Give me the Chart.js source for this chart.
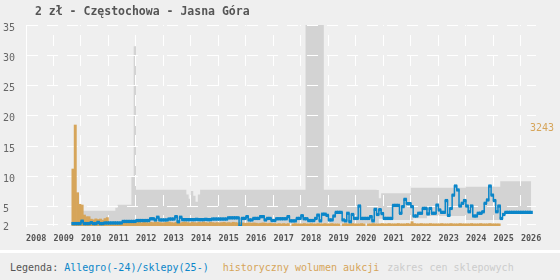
<!DOCTYPE html>
<html>
<head>
<meta charset="utf-8">
<script src="https://cdn.jsdelivr.net/npm/chart.js@4/dist/chart.umd.min.js"></script>
<style>
  html, body { margin: 0; padding: 0; background: #efefef; }
  #wrap { position: relative; width: 560px; height: 280px; overflow: hidden; }
  #title { position: absolute; left: 35px; top: 4px; font: bold 11.5px "DejaVu Sans Mono", monospace; color: #555; }
  #chart { position: absolute; left: 0; top: 0; }
  #sep { position: absolute; left: 0; top: 250px; width: 560px; height: 3px; background: #fff; }
  #legend { position: absolute; left: 10px; top: 262px; font: 10px "DejaVu Sans Mono", monospace; white-space: pre; color: #555; }
  #legend span { display: inline-block; }
</style>
</head>
<body>
<div id="wrap">
  <canvas id="chart" width="560" height="250"></canvas>
  <div id="title">2 zł - Częstochowa - Jasna Góra</div>
  <div id="sep"></div>
  <div id="legend">Legenda: <span style="color:#0b86c9">Allegro(-24)/sklepy(25-)</span><span style="color:#d6a55a;margin-left:14px">historyczny wolumen aukcji</span><span style="color:#cccccc;margin-left:8px">zakres cen sklepowych</span></div>
</div>
<script>
const yearTicks = [2008, 2009, 2010, 2011, 2012, 2013, 2014, 2015, 2016, 2017,
  2018, 2019, 2020, 2021, 2022, 2023, 2024, 2025, 2026];
const priceTicks = [2, 5, 10, 15, 20, 25, 30, 35];
const volumeTicks = [3243];

// monthly series, first value = month given in *Start
const allegroStart = [2009, 9];
const allegroPrices = [
  2.2, 2.2, 2.2, 2.2,
  2.6, 2.2, 2.2, 2.2, 2.35, 2.2, 2.2, 2.4, 2.2, 2.2, 2.3, 2.3,
  2.3, 2.3, 2.3, 2.3, 2.3, 2.3, 2.55, 2.55, 2.55, 2.55, 2.55, 2.55,
  2.7, 2.7, 2.7, 2.7, 2.7, 2.7, 3.0, 3.0, 2.8, 3.25, 2.8, 2.8,
  2.8, 2.8, 2.95, 2.95, 2.95, 3.35, 2.5, 3.25, 2.85, 2.85, 2.85, 2.85,
  2.85, 2.85, 2.9, 2.85, 2.85, 2.85, 2.9, 2.85, 2.85, 2.95, 2.95, 2.95,
  2.95, 2.95, 2.95, 2.95, 3.15, 3.15, 3.15, 3.15, 3.15, 1.75, 3.05, 3.05,
  3.35, 2.8, 2.8, 3.05, 3.05, 3.05, 3.35, 3.35, 2.8, 3.05, 3.05, 2.7,
  2.7, 3.0, 3.0, 3.0, 3.0, 3.0, 3.35, 2.65, 2.65, 2.65, 3.05, 3.05,
  3.5, 3.0, 3.0, 2.7, 2.7, 2.7, 3.05, 3.6, 2.65, 3.75, 3.75, 3.55,
  2.8, 2.8, 3.45, 4.05, 4.05, 4.05, 2.8, 2.65, 3.9, 2.5, 3.7, 3.05,
  3.05, 5.1, 3.05, 3.05, 3.05, 3.05, 3.35, 2.65, 4.55, 3.7, 4.5, 3.85,
  3.05, 3.05, 3.05, 3.05, 5.2, 5.2, 5.2, 3.9, 5.0, 6.2, 5.5, 5.5,
  5.0, 3.45, 3.45, 3.9, 3.9, 4.7, 4.7, 3.8, 4.7, 3.9, 3.9, 5.25,
  4.45, 4.05, 4.05, 6.0, 3.55, 4.7, 6.9, 8.4, 7.75, 5.1, 5.55, 6.0,
  5.1, 4.15, 5.1, 3.45, 3.45, 3.9, 3.9, 4.15, 5.55, 6.1, 8.4, 6.9,
  6.0, 4.15, 5.1, 3.05, 3.7, 4.05, 4.05, 4.05, 4.05, 4.05, 4.05, 4.05,
  4.05, 4.05, 4.05, 4.05, 4.05
];

const volumeStart = [2009, 9];
const volume = [
  1830, 3243, 1070, 697,
  674, 353, 300, 300, 220, 200, 230, 210, 225, 190, 240, 270,
  120, 110, 130, 120, 100, 110, 120, 100, 110, 100, 120, 110,
  110, 120, 100, 130, 110, 100, 120, 110, 130, 120, 110, 100,
  110, 120, 130, 110, 100, 120, 110, 100, 120, 130, 110, 100,
  120, 110, 100, 120, 110, 130, 110, 100, 120, 110, 100, 110,
  100, 110, 120, 100, 110, 100, 120, 110, 100, 110, 100, 90,
  90, 100, 90, 100, 90, 80, 90, 100, 90, 80, 90, 80,
  80, 70, 80, 70, 80, 70, 80, 0, 70, 80, 70, 70,
  70, 80, 70, 70, 80, 70, 70, 80, 70, 70, 80, 70,
  70, 80, 70, 70, 70, 0, 70, 80, 70, 70, 80, 70,
  70, 70, 80, 70, 0, 70, 70, 80, 70, 70, 70, 80,
  70, 70, 80, 70, 70, 70, 80, 70, 70, 70, 80, 70,
  140, 80, 70, 70, 80, 70, 70, 70, 80, 70, 70, 70,
  70, 80, 70, 70, 70, 80, 70, 70, 70, 80, 70, 70,
  70, 70, 80, 70, 70, 70, 80, 70, 70, 70, 80, 70,
  70, 70, 70
];

const shopStart = [2010, 1];
const shopMax = [
  4.3, 4.3, 4.3, 4.3, 4.3, 4.3, 4.3, 4.3, 4.3, 4.3, 4.3, 4.3,
  4.3, 4.3, 4.3, 4.8, 5.3, 5.3, 5.3, 5.3, 5.3, 5.3, 10, 31.5,
  7.8, 7.8, 7.8, 7.8, 7.8, 7.8, 7.8, 7.8, 7.8, 7.8, 7.8, 7.8,
  7.8, 7.8, 7.8, 7.8, 7.8, 7.8, 7.8, 7.8, 7.8, 7.8, 7.0, 6.3,
  7.6, 6.8, 5.8, 7.0, 7.8, 7.8, 7.8, 7.8, 7.8, 7.8, 7.8, 7.8,
  7.8, 7.8, 7.8, 7.8, 7.8, 7.8, 7.8, 7.8, 7.8, 7.8, 7.8, 7.8,
  7.8, 7.8, 7.8, 7.8, 7.8, 7.8, 7.8, 7.8, 7.8, 7.8, 7.8, 7.8,
  7.8, 7.8, 7.8, 7.8, 7.8, 7.8, 7.8, 7.8, 7.8, 7.8, 7.8, 7.8,
  7.8, 7.8, 35, 35, 35, 35, 35, 35, 35, 35, 7.8, 7.8,
  7.8, 7.8, 7.8, 7.8, 7.8, 7.8, 7.8, 7.8, 7.8, 7.8, 7.8, 7.8,
  7.8, 7.8, 7.8, 7.8, 7.8, 7.8, 7.8, 7.8, 7.8, 7.75, 6.4, 7.2,
  7.2, 7.2, 7.2, 7.2, 7.2, 7.2, 7.2, 7.2, 7.2, 7.2, 7.2, 7.2,
  8.1, 8.1, 8.1, 8.1, 8.1, 8.1, 8.1, 8.1, 8.1, 8.1, 8.1, 8.1,
  8.1, 8.1, 8.1, 8.1, 8.1, 8.1, 8.1, 8.1, 8.1, 8.1, 8.1, 8.1,
  8.3, 8.3, 8.3, 8.3, 8.3, 8.3, 8.3, 8.3, 8.3, 8.3, 8.3, 8.3,
  8.3, 8.3, 8.3, 9.2, 9.2, 9.2, 9.2, 9.2, 9.2, 9.2, 9.2, 9.2,
  9.2, 9.2, 9.2, 9.2, 9.2
];
const shopMin = [
  2.2, 2.2, 2.2, 2.2, 2.2, 2.2, 2.2, 2.2, 2.2, 2.2, 2.2, 2.2,
  2.2, 2.2, 2.2, 2.2, 2.2, 2.2, 2.2, 2.2, 2.2, 2.2, 2.2, 2.2,
  2.2, 2.2, 2.2, 2.2, 2.2, 2.2, 2.2, 2.2, 2.2, 2.2, 2.2, 2.2,
  2.2, 2.2, 2.2, 2.2, 2.2, 2.2, 2.2, 2.2, 2.2, 2.2, 2.2, 2.2,
  2.2, 2.2, 2.2, 2.2, 2.2, 2.2, 2.2, 2.2, 2.2, 2.2, 2.2, 2.2,
  2.2, 2.2, 2.2, 2.2, 2.2, 2.2, 2.2, 2.2, 2.2, 2.2, 2.2, 2.2,
  2.2, 2.2, 2.2, 2.2, 2.2, 2.2, 2.2, 2.2, 2.2, 2.2, 2.2, 2.2,
  2.2, 2.2, 2.2, 2.2, 2.2, 2.2, 2.2, 2.2, 2.2, 2.2, 2.2, 2.2,
  2.2, 2.2, 2.2, 2.2, 2.2, 2.2, 2.2, 2.2, 2.2, 2.2, 2.2, 2.2,
  2.2, 2.2, 2.2, 2.2, 2.2, 2.2, 2.2, 2.2, 2.2, 2.2, 2.2, 2.2,
  2.2, 2.2, 2.2, 2.2, 2.2, 2.2, 2.2, 2.2, 2.2, 2.2, 3.0, 3.0,
  2.8, 2.8, 2.8, 2.8, 2.8, 2.8, 2.8, 2.8, 2.8, 2.8, 2.8, 2.8,
  2.8, 3.1, 3.1, 3.1, 3.1, 3.1, 3.1, 3.45, 3.45, 3.45, 3.45, 3.45,
  3.45, 3.45, 3.45, 3.45, 3.45, 3.45, 3.45, 3.45, 3.45, 3.45, 3.45, 3.45,
  2.8, 2.8, 2.8, 2.8, 2.8, 2.8, 2.8, 2.8, 2.8, 2.8, 2.8, 2.8,
  2.8, 2.8, 2.8, 3.8, 3.8, 3.8, 3.8, 3.8, 3.8, 3.8, 3.8, 3.8,
  3.8, 3.8, 3.8, 3.8, 3.8
];

const BLUE = "#0b86c9";
const ORANGE = "#d6a55a";
const GREY = "#d3d3d3";

// month index -> decimal year (middle of the month)
function toPoints(start, values) {
  return values.map((v, i) => ({ x: start[0] + (start[1] - 1 + i + 0.5) / 12, y: v }));
}

// white grid goes over the shop price band but under bars and line
const gridOverBand = {
  id: "gridOverBand",
  afterDatasetDraw(chart, args) {
    if (args.index !== 2) return;
    chart.scales.x.drawGrid(chart.chartArea);
    chart.scales.y.drawGrid(chart.chartArea);
  }
};

Chart.defaults.font.family = '"DejaVu Sans Mono", monospace';

new Chart(document.getElementById("chart"), {
  type: "bar",
  data: {
    datasets: [{
      type: "line",
      label: "Allegro(-24)/sklepy(25-)",
      data: toPoints(allegroStart, allegroPrices),
      borderColor: BLUE,
      backgroundColor: BLUE,
      borderWidth: 1.5,
      stepped: "middle",
      pointStyle: "rect",
      pointRadius: 2.3,
      pointBorderWidth: 0,
      fill: false,
      yAxisID: "y"
    }, {
      type: "bar",
      label: "historyczny wolumen aukcji",
      data: toPoints(volumeStart, volume),
      backgroundColor: ORANGE,
      barPercentage: 1,
      categoryPercentage: 1,
      yAxisID: "y2"
    }, {
      type: "line",
      label: "zakres cen sklepowych",
      data: toPoints(shopStart, shopMax),
      borderWidth: 0,
      borderColor: "transparent",
      backgroundColor: GREY,
      pointRadius: 0,
      stepped: "middle",
      fill: "+1",
      yAxisID: "y"
    }, {
      type: "line",
      label: "min",
      data: toPoints(shopStart, shopMin),
      borderWidth: 0,
      borderColor: "transparent",
      pointRadius: 0,
      stepped: "middle",
      fill: false,
      yAxisID: "y"
    }]
  },
  options: {
    responsive: false,
    animation: false,
    layout: { padding: { left: 3, top: 25, right: 0, bottom: 0 } },
    plugins: {
      legend: { display: false },
      tooltip: { enabled: false }
    },
    scales: {
      x: {
        type: "linear",
        min: 2008,
        max: 2026.55,
        offset: false,
        afterBuildTicks: s => { s.ticks = yearTicks.map(v => ({ value: v })); },
        afterFit: s => { s.height = 24; },
        ticks: {
          align: "start",
          padding: 8,
          autoSkip: false,
          maxRotation: 0,
          color: "#555",
          font: { size: 8.5, weight: "bold" },
          callback: v => String(v)
        },
        grid: { color: "#ffffff", drawTicks: false, offset: false },
        border: { display: false, dash: [11, 9], dashOffset: 10 }
      },
      y: {
        type: "linear",
        position: "left",
        min: 1.8,
        max: 35,
        afterBuildTicks: s => { s.ticks = priceTicks.map(v => ({ value: v })); },
        afterFit: s => { s.width = 23; },
        ticks: {
          crossAlign: "far",
          labelOffset: 3,
          color: "#666",
          font: { size: 10 },
          callback: v => String(v)
        },
        grid: { color: "#ffffff", drawTicks: false },
        border: { display: true, color: "#ffffff", width: 1, dash: [11, 9], dashOffset: 0 }
      },
      y2: {
        type: "linear",
        position: "right",
        min: 0,
        max: 6454,
        afterBuildTicks: s => { s.ticks = volumeTicks.map(v => ({ value: v })); },
        afterFit: s => { s.width = 24; },
        ticks: {
          mirror: true,
          padding: 18,
          labelOffset: 3,
          color: ORANGE,
          font: { size: 10 },
          callback: v => String(v)
        },
        grid: { display: false, drawTicks: false },
        border: { display: false }
      }
    }
  },
  plugins: [gridOverBand]
});
</script>
</body>
</html>
